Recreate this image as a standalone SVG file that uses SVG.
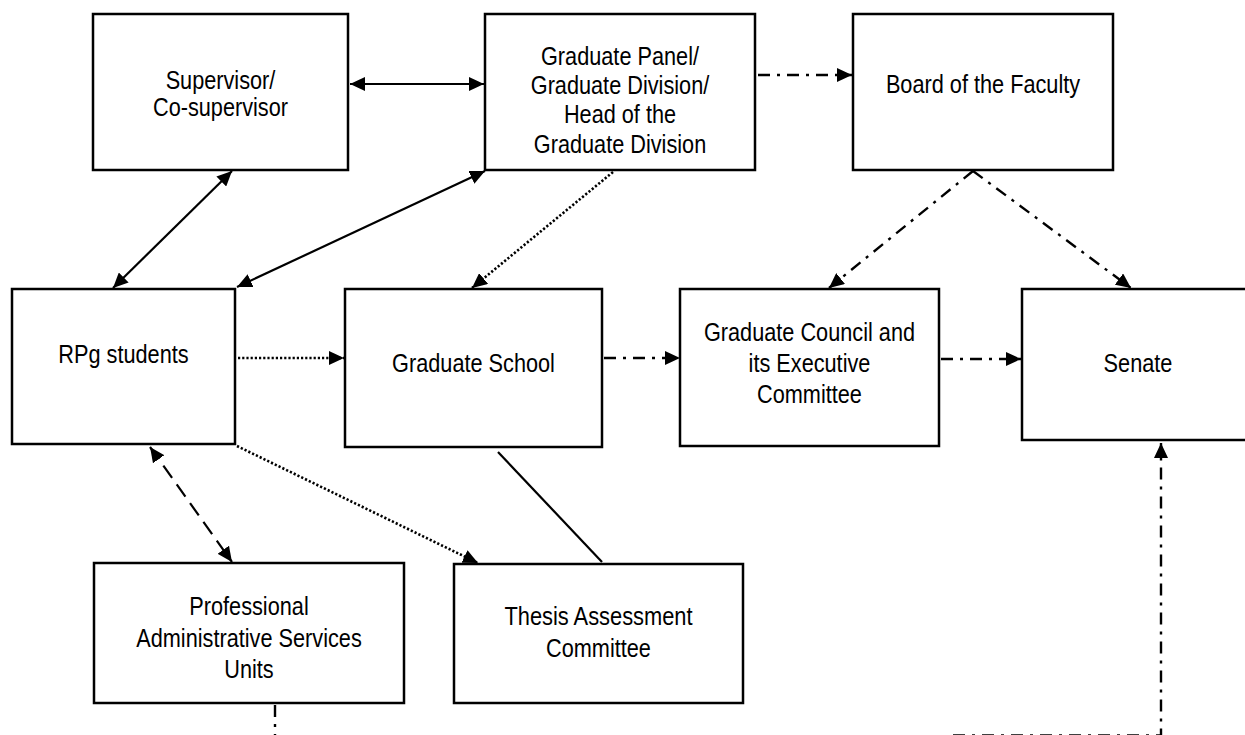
<svg xmlns="http://www.w3.org/2000/svg" width="1245" height="735" viewBox="0 0 1245 735">
<style>
.box{fill:#fff;stroke:#000;stroke-width:2.5}
.t{font-family:'Liberation Sans Narrow','Liberation Sans',Arial,sans-serif;font-size:26.5px;fill:#000;text-anchor:middle}
.c{fill:none;stroke:#000;stroke-width:2.2}
.solid{}
.dot{stroke-dasharray:2.2 2;stroke-width:2.6}
.dash{stroke-dasharray:15 8}
.dd{stroke-dasharray:12 7 3 7;stroke-width:2.4}
.arr{marker-end:url(#ah)}
.bi{marker-start:url(#ah);marker-end:url(#ah)}
</style>
<defs>
<marker id="ah" markerUnits="userSpaceOnUse" markerWidth="16" markerHeight="14" refX="15" refY="7" orient="auto-start-reverse" viewBox="0 0 16 14">
<path d="M0,0 L15,7 L0,14 z" fill="#000" stroke="none"/>
</marker>
</defs>
<rect width="1245" height="735" fill="#fff"/>

<g id="connectors">
<line class="c solid bi" x1="350" y1="84" x2="484" y2="84"/>
<line class="c solid bi" x1="232" y1="171" x2="113" y2="288"/>
<line class="c solid bi" x1="485" y1="171" x2="237" y2="287"/>
<line class="c dd arr" x1="758" y1="75" x2="852" y2="75"/>
<line class="c dot arr" x1="613" y1="172" x2="472" y2="288"/>
<line class="c dd arr" x1="973" y1="171" x2="829" y2="288"/>
<line class="c dd arr" x1="973" y1="171" x2="1131" y2="288"/>
<line class="c dot arr" x1="238" y1="358" x2="344" y2="358"/>
<line class="c dd arr" x1="604" y1="358" x2="680" y2="358"/>
<line class="c dd arr" x1="941" y1="359" x2="1021" y2="359"/>
<line class="c dot arr" x1="237" y1="446" x2="478" y2="563"/>
<line class="c dash bi" x1="150" y1="447" x2="232" y2="562"/>
<line class="c solid" x1="498" y1="452" x2="602" y2="562"/>
<line class="c dd" x1="275" y1="705" x2="275" y2="745"/>
<path class="c dd arr" d="M953,735.5 H1161 V443"/>
</g>

<g id="supervisor">
<rect class="box" x="93" y="14" width="255" height="156"/>
<text class="t" x="220.5" y="89" textLength="109.7" lengthAdjust="spacingAndGlyphs">Supervisor/</text>
<text class="t" x="220.5" y="116" textLength="135" lengthAdjust="spacingAndGlyphs">Co-supervisor</text>
</g>

<g id="graduate-panel">
<rect class="box" x="485" y="14" width="270" height="156"/>
<text class="t" x="620" y="65" textLength="158" lengthAdjust="spacingAndGlyphs">Graduate Panel/</text>
<text class="t" x="620" y="94" textLength="178.5" lengthAdjust="spacingAndGlyphs">Graduate Division/</text>
<text class="t" x="620" y="123" textLength="112.2" lengthAdjust="spacingAndGlyphs">Head of the</text>
<text class="t" x="620" y="153" textLength="172.4" lengthAdjust="spacingAndGlyphs">Graduate Division</text>
</g>

<g id="board">
<rect class="box" x="853" y="14" width="260" height="156"/>
<text class="t" x="983" y="93" textLength="194.2" lengthAdjust="spacingAndGlyphs">Board of the Faculty</text>
</g>

<g id="rpg-students">
<rect class="box" x="12" y="289" width="223" height="155"/>
<text class="t" x="123.5" y="363" textLength="130.3" lengthAdjust="spacingAndGlyphs">RPg students</text>
</g>

<g id="graduate-school">
<rect class="box" x="345" y="289" width="257" height="158"/>
<text class="t" x="473.5" y="372" textLength="162.8" lengthAdjust="spacingAndGlyphs">Graduate School</text>
</g>

<g id="graduate-council">
<rect class="box" x="680" y="289" width="259" height="157"/>
<text class="t" x="809.5" y="341" textLength="211.1" lengthAdjust="spacingAndGlyphs">Graduate Council and</text>
<text class="t" x="809.5" y="372" textLength="121.8" lengthAdjust="spacingAndGlyphs">its Executive</text>
<text class="t" x="809.5" y="403" textLength="104.9" lengthAdjust="spacingAndGlyphs">Committee</text>
</g>

<g id="senate">
<rect class="box" x="1022" y="289" width="232" height="151"/>
<text class="t" x="1138" y="372" textLength="68.8" lengthAdjust="spacingAndGlyphs">Senate</text>
</g>

<g id="pasu">
<rect class="box" x="94" y="563" width="310" height="140"/>
<text class="t" x="249" y="615" textLength="119.4" lengthAdjust="spacingAndGlyphs">Professional</text>
<text class="t" x="249" y="647" textLength="225.5" lengthAdjust="spacingAndGlyphs">Administrative Services</text>
<text class="t" x="249" y="678" textLength="49.4" lengthAdjust="spacingAndGlyphs">Units</text>
</g>

<g id="thesis-assessment">
<rect class="box" x="454" y="564" width="289" height="139"/>
<text class="t" x="598.5" y="625" textLength="188.1" lengthAdjust="spacingAndGlyphs">Thesis Assessment</text>
<text class="t" x="598.5" y="657" textLength="104.9" lengthAdjust="spacingAndGlyphs">Committee</text>
</g>
</svg>
